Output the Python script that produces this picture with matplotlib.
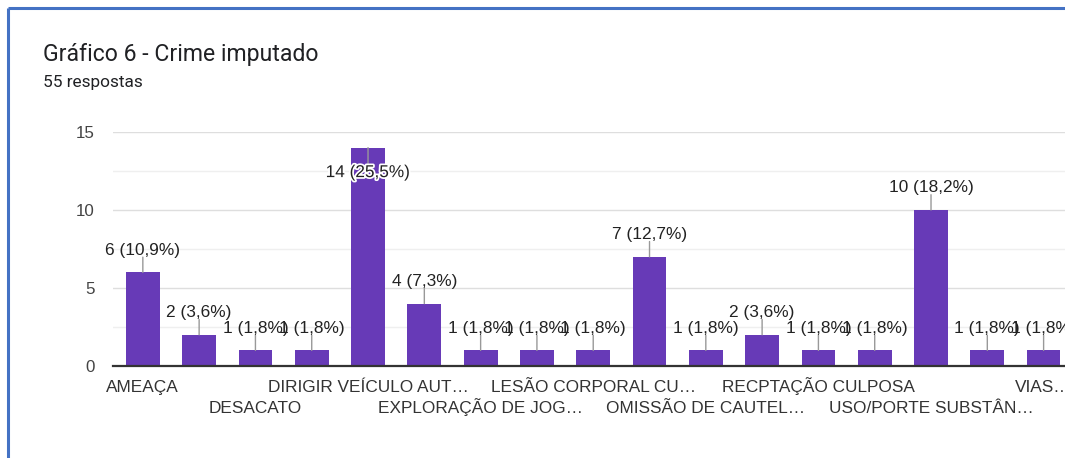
import matplotlib
matplotlib.use("Agg")
import matplotlib.pyplot as plt
from matplotlib.lines import Line2D
import matplotlib.patheffects as pe

# ---- data ----
counts = [6, 2, 1, 1, 14, 4, 1, 1, 1, 7, 1, 2, 1, 1, 10, 1, 1]
total_responses = 55
tick_labels = ["AMEAÇA", "", "DESACATO", "", "DIRIGIR VEÍCULO AUT…", "",
               "EXPLORAÇÃO DE JOG…", "", "LESÃO CORPORAL CU…", "",
               "OMISSÃO DE CAUTEL…", "", "RECPTAÇÃO CULPOSA", "",
               "USO/PORTE SUBSTÂN…", "", "VIAS…"]
title = "Gráfico 6 - Crime imputado"
subtitle = "55 respostas"
y_ticks = [0, 5, 10, 15]

W, H = 1065, 458
fig = plt.figure(figsize=(W / 100, H / 100), dpi=100)
fig.patch.set_facecolor("white")

# blue frame (left and top only)
blue = "#4472C4"
fig.add_artist(Line2D([7.5 / W, 7.5 / W], [0, 1 - 8 / H], color=blue, lw=2.2,
                      transform=fig.transFigure, solid_capstyle="butt"))
fig.add_artist(Line2D([7.5 / W, 1], [1 - 8 / H, 1 - 8 / H], color=blue, lw=2.2,
                      transform=fig.transFigure, solid_capstyle="butt"))

fig.text(43 / W, 1 - 55 / H, title, fontsize=16.6, family="Roboto",
         color="#202124", va="center", ha="left")
fig.text(43 / W, 1 - 82 / H, subtitle, fontsize=12.4, family="Roboto",
         color="#202124", va="center", ha="left")

ax_left = 113 / W
ax_bottom = (H - 366) / H
ax_top = (H - 132) / H
ax = fig.add_axes([ax_left, ax_bottom, 1 - ax_left, ax_top - ax_bottom])

x = list(range(len(counts)))
ax.bar(x, counts, width=0.6, color="#673AB7", zorder=3)

ax.set_xlim(-0.53, 16.38)
ax.set_ylim(0, 15)

for s in ["left", "right", "top"]:
    ax.spines[s].set_visible(False)
ax.spines["bottom"].set_color("#333333")
ax.spines["bottom"].set_linewidth(1.6)
ax.spines["bottom"].set_zorder(4)

ax.set_yticks(y_ticks)
ax.set_yticks([2.5, 7.5, 12.5], minor=True)
ax.grid(axis="y", which="major", color="#dedede", lw=1, zorder=0)
ax.grid(axis="y", which="minor", color="#efefef", lw=1, zorder=0)
ax.tick_params(axis="y", which="both", length=0, pad=13, labelsize=12.2,
               labelcolor="#444444")
for t in ax.get_yticklabels():
    t.set_family("Liberation Sans")

# category labels, alternating in two rows (baseline aligned)
ax.set_xticks(x)
ax.set_xticklabels([""] * len(x))
ax.tick_params(axis="x", length=0)
row_y = [-0.111, -0.201]
for i, l in enumerate(tick_labels):
    if not l:
        continue
    row = (i // 2) % 2
    ax.text(i, row_y[row], l, transform=ax.get_xaxis_transform(),
            ha="center", va="baseline", fontsize=12.4,
            family="Liberation Sans", color="#333333", clip_on=False)

# value annotations
for xi, v in zip(x, counts):
    pct = v / total_responses * 100
    txt = f"{v} ({pct:.1f}%)".replace(".", ",")
    if v > 12.5:
        ax.annotate("", xy=(xi, v), xytext=(0, -12), textcoords="offset points",
                    arrowprops=dict(arrowstyle="-", color="#999999", lw=1,
                                    shrinkA=0, shrinkB=0), zorder=5)
        ax.annotate(txt, xy=(xi, v), xytext=(0, -18), textcoords="offset points",
                    ha="center", va="center", fontsize=12.4,
                    family="Liberation Sans", color="#222222", zorder=6,
                    path_effects=[pe.withStroke(linewidth=2.5, foreground="white")])
    else:
        ax.annotate("", xy=(xi, v), xytext=(0, 11), textcoords="offset points",
                    arrowprops=dict(arrowstyle="-", color="#999999", lw=1,
                                    shrinkA=0, shrinkB=0), zorder=5)
        ax.annotate(txt, xy=(xi, v), xytext=(0, 16), textcoords="offset points",
                    ha="center", va="center", fontsize=12.4,
                    family="Liberation Sans", color="#222222", zorder=6,
                    annotation_clip=False)

fig.savefig("out.png", dpi=100, facecolor="white")
